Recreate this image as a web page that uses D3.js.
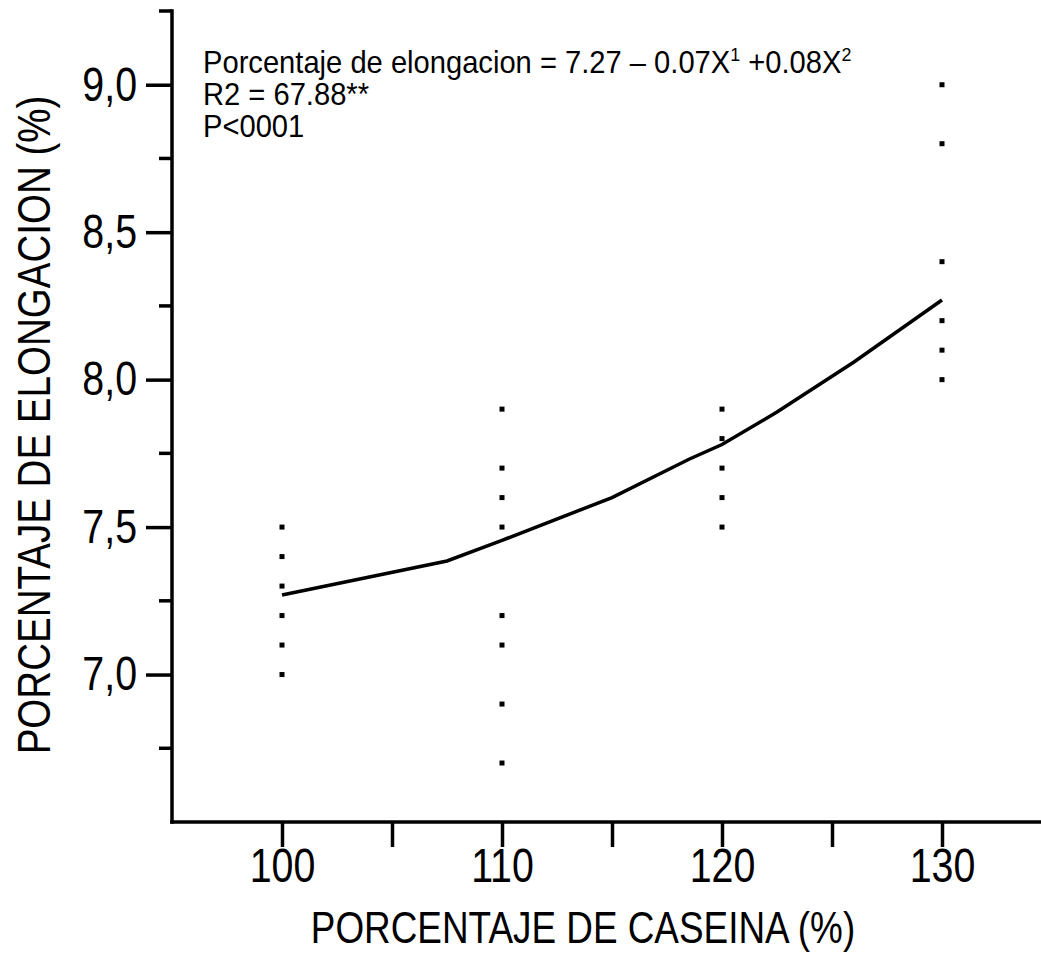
<!DOCTYPE html>
<html>
<head>
<meta charset="utf-8">
<script src="https://cdn.jsdelivr.net/npm/d3@7"></script>
<style>
  html, body { margin: 0; padding: 0; background: #fff; }
  svg { display: block; font-family: 'Liberation Sans', Arial, sans-serif; }
</style>
</head>
<body>
<svg id="chart" width="1041" height="959"></svg>
<script>
'use strict';

const FONT = "'Liberation Sans', Arial, sans-serif";
const NARROW = 0.82; // the source uses a narrow Arial, emulate it by squeezing

// observed points, casein level -> elongation values
const caseina100 = [7.5, 7.4, 7.3, 7.2, 7.1, 7.0];
const caseina110 = [7.9, 7.7, 7.6, 7.5, 7.2, 7.1, 6.9, 6.7];
const caseina120 = [7.9, 7.8, 7.7, 7.6, 7.5];
const caseina130 = [9.0, 8.8, 8.4, 8.2, 8.1, 8.0];
const groups = [[100, caseina100], [110, caseina110], [120, caseina120], [130, caseina130]];

// fitted curve as drawn
const curveX = [100, 107.5, 110, 115, 118.5, 120, 122.5, 126, 130];
const curveY = [7.27, 7.385, 7.455, 7.60, 7.73, 7.78, 7.89, 8.06, 8.27];

const xTicks = [100, 105, 110, 115, 120, 125, 130];
const xTickLabels = ['100', '', '110', '', '120', '', '130'];
const yMajor = [7.0, 7.5, 8.0, 8.5, 9.0];
const yMinor = [6.75, 7.25, 7.75, 8.25, 8.75, 9.25];

const svg = d3.select('#chart');
const x = d3.scaleLinear().domain([95, 135]).range([172, 1052]);
const y = d3.scaleLinear().domain([6.5, 9.25]).range([822, 11]);

/* axes */
const xAxis = svg.append('g').attr('transform', `translate(0,${y(6.5)})`)
  .call(d3.axisBottom(x).tickValues(xTicks).tickSize(25).tickPadding(1)
    .tickFormat((d, i) => xTickLabels[i]));
xAxis.select('.domain').attr('d', `M${x(95)},0H${x(135)}`);

const yAxis = svg.append('g').attr('transform', `translate(${x(95)},0)`)
  .call(d3.axisLeft(y).tickValues(yMajor).tickSize(26)
    .tickFormat(d => d3.format('.1f')(d).replace('.', ',')));
yAxis.select('.domain').attr('d', `M0,${y(6.5)}V${y(9.25)}`);
yAxis.selectAll('.tick text').attr('x', -35 / NARROW);

svg.append('g').attr('transform', `translate(${x(95)},0)`)
  .selectAll('line').data(yMinor).join('line')
  .attr('x1', -13).attr('x2', 0)
  .attr('y1', d => y(d)).attr('y2', d => y(d))
  .attr('stroke', '#000').attr('stroke-width', 3.5);

svg.selectAll('.domain, .tick line').attr('stroke', '#000').attr('stroke-width', 3.5)
  .attr('stroke-linecap', 'square');
svg.selectAll('.tick line').attr('stroke-linecap', 'butt');
svg.selectAll('.tick text').attr('fill', '#000').style('font-size', '48px')
  .style('font-family', FONT).attr('transform', `scale(${NARROW},1)`);

/* points */
const pts = groups.flatMap(([c, vals]) => vals.map(v => ({ c, v })));
svg.append('g').selectAll('rect').data(pts).join('rect')
  .attr('x', d => x(d.c) - 2.5).attr('y', d => y(d.v) - 2.5)
  .attr('width', 5).attr('height', 5).attr('fill', '#000');

/* fitted line */
const line = d3.line().x(d => x(d[0])).y(d => y(d[1]));
svg.append('path').datum(curveX.map((c, i) => [c, curveY[i]]))
  .attr('d', line).attr('fill', 'none').attr('stroke', '#000').attr('stroke-width', 3.5);

/* equation */
const note = svg.append('g').attr('transform', 'translate(203,0) scale(0.94,1)')
  .style('font-size', '31px');
const eq = note.append('text').attr('x', 0).attr('y', 73);
eq.append('tspan').text('Porcentaje de elongacion = 7.27 \u2013 0.07X');
eq.append('tspan').attr('dy', -12).style('font-size', '19px').text('1');
eq.append('tspan').attr('dy', 12).text(' +0.08X');
eq.append('tspan').attr('dy', -12).style('font-size', '19px').text('2');
note.append('text').attr('x', 0).attr('y', 105).text('R2 = 67.88**');
note.append('text').attr('x', 0).attr('y', 137).text('P<0001');

/* titles */
svg.append('text').attr('transform', `translate(583,943) scale(${NARROW},1)`)
  .attr('text-anchor', 'middle').style('font-size', '45px').text('PORCENTAJE DE CASEINA (%)');
svg.append('text').attr('transform', `translate(50,425) rotate(-90) scale(${NARROW},1)`)
  .attr('text-anchor', 'middle').style('font-size', '47px').text('PORCENTAJE DE ELONGACION (%)');
</script>
</body>
</html>
